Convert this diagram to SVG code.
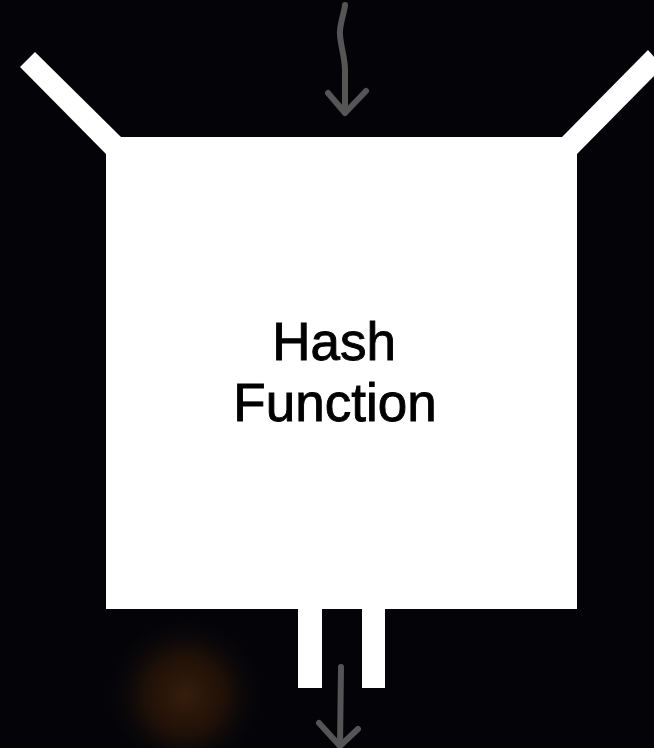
<svg xmlns="http://www.w3.org/2000/svg" width="654" height="748" viewBox="0 0 654 748">
  <defs>
    <radialGradient id="glow" cx="185" cy="695" r="80" gradientUnits="userSpaceOnUse">
      <stop offset="0" stop-color="#3a1e0a" stop-opacity="0.95"/>
      <stop offset="0.5" stop-color="#2a1608" stop-opacity="0.7"/>
      <stop offset="1" stop-color="#05050a" stop-opacity="0"/>
    </radialGradient>
    <style>
      .shape { fill: #ffffff; }
      .arrow { fill: none; stroke: #555555; stroke-width: 6; stroke-linecap: round; stroke-linejoin: round; }
      .label { font-family: "Liberation Sans", Arial, sans-serif; font-size: 53px; fill: #000000; stroke: #000000; stroke-width: 0.9px; text-anchor: middle; }
    </style>
  </defs>
  <rect x="0" y="0" width="654" height="748" fill="#040408"/>
  <ellipse cx="190" cy="697" rx="130" ry="75" fill="url(#glow)"/>
  <g id="hash-function">
    <rect class="shape" x="106" y="137" width="471" height="472"/>
    <polygon class="shape" points="20,67 35,52 122,138 106,154"/>
    <polygon class="shape" points="561,138 648,50 663,67 577,154"/>
    <rect class="shape" x="298" y="605" width="24" height="83"/>
    <rect class="shape" x="362" y="605" width="23" height="83"/>
    <text class="label" x="334" y="360">Hash</text>
    <text class="label" x="335" y="421">Function</text>
  </g>
  <g id="connectors">
    <path class="arrow" d="M345,5 C344,15 339,25 340,35 C341,48 345,58 345,70 L345,112"/>
    <path class="arrow" d="M328,93 L345,113 L366,91"/>
    <path class="arrow" d="M341,667 L340,746"/>
    <path class="arrow" d="M319,723 L340,746 L358,729"/>
  </g>
</svg>
